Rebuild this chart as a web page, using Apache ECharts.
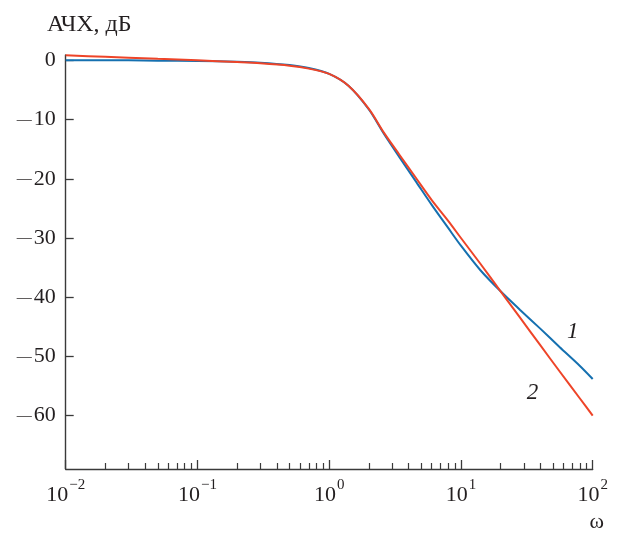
<!DOCTYPE html>
<html>
<head>
<meta charset="utf-8">
<script src="https://cdn.jsdelivr.net/npm/echarts@6/dist/echarts.min.js"></script>
<style>
html,body{margin:0;padding:0;background:#fff;}
#chart{width:621px;height:533px;}
</style>
</head>
<body>
<div id="chart"></div>
<script>
// Frequency points (rad/s)
const omega = [0.01,0.02,0.03,0.05,0.1,0.2,0.3,0.5,0.7,1,1.4,2,2.6,3.4,4.6,6,8,10,14,20,28,40,56,80,100];
// Curve 1 (blue), dB
const curve1 = [0,0,0,-0.05,-0.1,-0.25,-0.4,-0.8,-1.3,-2.3,-4.3,-8.3,-12.4,-16.3,-20.6,-24.4,-28.3,-31.3,-35.4,-39.0,-42.1,-45.3,-48.4,-51.6,-53.8];
// Curve 2 (red), dB
const curve2 = [0.85,0.6,0.45,0.25,0,-0.3,-0.5,-0.9,-1.4,-2.3,-4.3,-8.2,-12.2,-15.9,-20.0,-23.6,-27.1,-30.0,-34.3,-39.0,-43.4,-48.1,-52.5,-57.1,-60.0];
// Axis ticks
const xMajorTicks = [0.01,0.1,1,10,100];
const xMinorTicks = [0.02,0.03,0.04,0.05,0.06,0.07,0.08,0.09,
                     0.2,0.3,0.4,0.5,0.6,0.7,0.8,0.9,
                     2,3,4,5,6,7,8,9,
                     20,30,40,50,60,70,80,90];
const yTicks = [0,-10,-20,-30,-40,-50,-60];
// Curve labels (data coordinates)
const curveLabelNames = ['1','2'];
const curveLabelPos = [[70.6,-45.9],[34.9,-56.1]];

const FONT = '"Liberation Serif", "DejaVu Serif", serif';
const INK = '#231f20';
const AXIS = '#3a3a3a';

const chart = echarts.init(document.getElementById('chart'), null, {renderer:'canvas'});

function pairs(xs, ys){ return xs.map((x,i)=>[x, ys[i]]); }
function expLabel(v){
  const e = Math.round(Math.log10(v));
  return '{b|10}{s|' + (e < 0 ? '\u2212' + (-e) : e) + '}';
}
function yLabel(v){
  return v < 0 ? '{m|\u2014}{n|' + (-v) + '}' : '{n|' + v + '}';
}

const option = {
  animation: false,
  backgroundColor: '#fff',
  title: {
    text: 'АЧХ, дБ',
    left: 42, top: 8,
    textStyle: {fontFamily: FONT, fontSize: 24, fontWeight: 'normal', color: INK}
  },
  grid: {left: 65.7, right: 28.3, top: 55, bottom: 62.3, containLabel: false},
  xAxis: [{
    type: 'log', logBase: 10, min: 0.01, max: 100, position: 'bottom',
    name: 'ω', nameLocation: 'end', nameGap: 4,
    nameTextStyle: {fontFamily: FONT, fontSize: 22, color: INK, align: 'center', verticalAlign: 'top', padding: [42,0,0,0]},
    axisLine: {show: true, onZero: false, lineStyle: {color: AXIS, width: 1.4}},
    axisTick: {show: true, inside: true, length: 9, customValues: xMajorTicks, lineStyle: {color: AXIS, width: 1.3}},
    axisLabel: {
      customValues: xMajorTicks, margin: 9,
      formatter: expLabel,
      rich: {
        b: {fontFamily: FONT, fontSize: 22, color: INK, lineHeight: 28, verticalAlign: 'bottom'},
        s: {fontFamily: FONT, fontSize: 15, color: INK, lineHeight: 15, verticalAlign: 'top', padding: [0,0,0,1]}
      }
    },
    splitLine: {show: false}, minorTick: {show: false}
  },{
    type: 'log', logBase: 10, min: 0.01, max: 100, position: 'bottom',
    axisLine: {show: false, onZero: false},
    axisTick: {show: true, inside: true, length: 6, customValues: xMinorTicks, lineStyle: {color: AXIS, width: 1.2}},
    axisLabel: {show: false},
    splitLine: {show: false}
  }],
  yAxis: {
    type: 'value', min: -69, max: 0.9,
    axisLine: {show: true, onZero: false, lineStyle: {color: AXIS, width: 1.4}},
    axisTick: {show: true, inside: true, length: 8, customValues: yTicks, lineStyle: {color: AXIS, width: 1.3}},
    axisLabel: {
      customValues: yTicks, margin: 10,
      formatter: yLabel,
      rich: {
        m: {fontFamily: FONT, fontSize: 15, color: INK, padding: [1,2,0,0]},
        n: {fontFamily: FONT, fontSize: 22, color: INK}
      }
    },
    splitLine: {show: false}
  },
  series: [{
    name: '1', type: 'line', xAxisIndex: 0,
    data: pairs(omega, curve1), smooth: 0.3, showSymbol: false,
    lineStyle: {color: '#1570b0', width: 2}, z: 3,
    markPoint: {
      symbol: 'circle', symbolSize: 0,
      data: [{coord: curveLabelPos[0], value: curveLabelNames[0]}],
      label: {show: true, position: 'inside', formatter: curveLabelNames[0], fontFamily: FONT, fontStyle: 'italic', fontSize: 23, color: INK}
    }
  },{
    name: '2', type: 'line', xAxisIndex: 0,
    data: pairs(omega, curve2), smooth: 0.3, showSymbol: false,
    lineStyle: {color: '#ee4428', width: 2}, z: 4,
    markPoint: {
      symbol: 'circle', symbolSize: 0,
      data: [{coord: curveLabelPos[1], value: curveLabelNames[1]}],
      label: {show: true, position: 'inside', formatter: curveLabelNames[1], fontFamily: FONT, fontStyle: 'italic', fontSize: 23, color: INK}
    }
  }]
};
chart.setOption(option);
</script>
</body>
</html>
